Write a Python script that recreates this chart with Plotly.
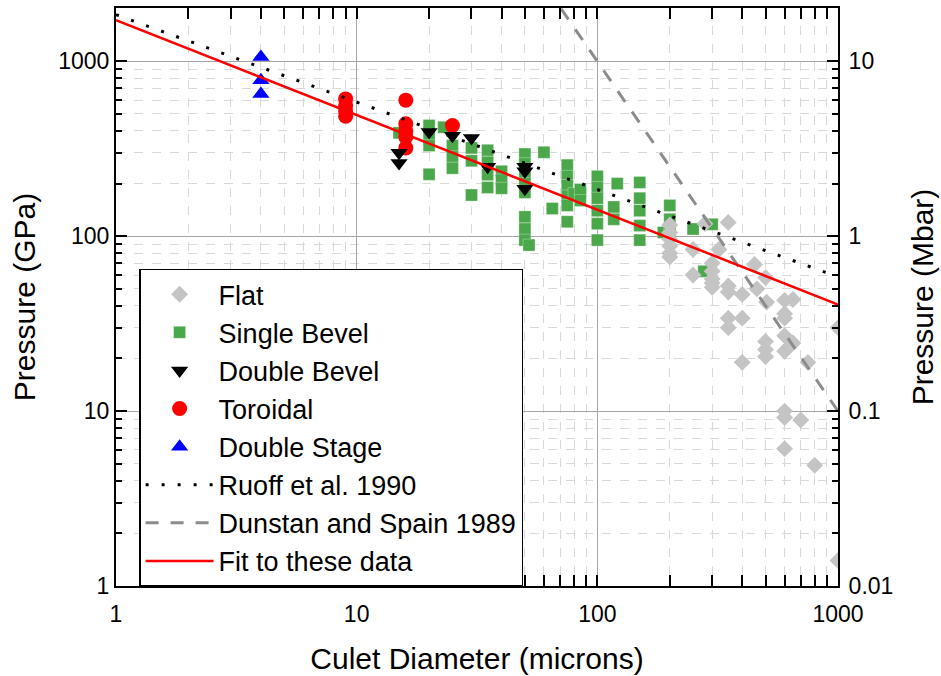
import plotly.graph_objects as go

# ---------------- data ----------------
flat_x = [200, 200, 200, 200, 200, 200, 250, 250, 280, 350, 320,
          300, 300, 300, 300, 300, 350, 350, 350, 350, 400, 400, 400,
          450, 460, 500, 505, 500, 500, 500, 600, 600, 600, 600, 600,
          650, 650, 600, 600, 700, 600, 750, 800, 1000, 1000]
flat_y = [116, 105, 96, 88, 80, 76, 84, 60, 118, 120, 84,
          70, 63, 57, 54, 51, 52, 48, 34, 30, 46.5, 34, 19,
          69, 50, 58, 42, 25, 22.5, 20.5, 43, 36, 34, 27, 22,
          43.5, 24.5, 10, 9.2, 8.9, 6.1, 19, 4.9, 30, 1.4]

single_x = [15, 20, 20, 20, 20, 23, 25, 25, 25, 30, 30, 30,
            35, 35, 35, 35, 40, 40, 40,
            50, 50, 50, 50, 50, 50, 50, 50, 52,
            60, 65, 75, 75, 75, 75, 75, 75, 80, 85, 85,
            100, 100, 100, 100, 100, 100, 117, 117, 121,
            150, 150, 150, 150, 150, 188, 200, 200, 200, 250, 300, 277]
single_y = [390, 430, 380, 330, 226, 420, 330, 285, 245, 320, 270, 172,
            310, 265, 225, 190, 235, 210, 188,
            295, 260, 225, 200, 178, 129, 110, 95, 89,
            302, 144, 255, 220, 195, 170, 150, 121, 175, 185, 160,
            220, 190, 165, 140, 118, 95, 147, 125, 200,
            203, 165, 140, 115, 95, 105, 150, 125, 105, 110, 117, 63]

double_x = [15, 15, 20, 25, 30, 35, 50, 50, 50]
double_y = [300, 262, 395, 375, 365, 250, 250, 235, 187]

toroidal_x = [9, 9, 9, 9, 16, 16, 16, 16, 16, 25]
toroidal_y = [610, 560, 520, 485, 600, 440, 400, 370, 320, 430]

stage_x = [4, 4, 4]
stage_y = [1060, 780, 650]

ruoff_x = [1, 1000]
ruoff_y = [1850, 58.5]
dunstan_x = [70.7, 1000]
dunstan_y = [2000, 10]
fit_x = [1, 1000]
fit_y = [1718, 40.7]

x_ticks = [1, 10, 100, 1000]
x_ticktext = ["1", "10", "100", "1000"]
y_ticks = [1, 10, 100, 1000]
y_ticktext = ["1", "10", "100", "1000"]
y2_ticks = [0.01, 0.1, 1, 10]
y2_ticktext = ["0.01", "0.1", "1", "10"]

x_minor = [m * d for d in (1, 10, 100) for m in range(2, 10)]
y_minor = [m * d for d in (1, 10, 100) for m in range(2, 10)] + [2000]
y2_minor = [m * d for d in (0.01, 0.1, 1) for m in range(2, 10)] + [20]

FONT = "Liberation Sans, Arial, sans-serif"

fig = go.Figure()
fig.add_trace(go.Scatter(x=single_x, y=single_y, mode="markers", name="Single Bevel",
                         legendrank=2,
                         marker=dict(symbol="square", size=12, color="#4aa84a",
                                     line=dict(color="rgba(255,255,255,0.6)", width=0.5))))
fig.add_trace(go.Scatter(x=flat_x, y=flat_y, mode="markers", name="Flat", legendrank=1,
                         marker=dict(symbol="diamond", size=13, color="#c4c4c4", line=dict(width=0))))
fig.add_trace(go.Scatter(x=toroidal_x, y=toroidal_y, mode="markers", name="Toroidal", legendrank=4,
                         marker=dict(symbol="circle", size=15, color="#ff0000", line=dict(width=0))))
fig.add_trace(go.Scatter(x=double_x, y=double_y, mode="markers", name="Double Bevel", legendrank=3,
                         marker=dict(symbol="triangle-down", size=15, color="#000000", line=dict(width=0))))
fig.add_trace(go.Scatter(x=stage_x, y=stage_y, mode="markers", name="Double Stage", legendrank=5,
                         marker=dict(symbol="triangle-up", size=15, color="#0000ff", line=dict(width=0))))
fig.add_trace(go.Scatter(x=ruoff_x, y=ruoff_y, mode="lines", name="Ruoff et al. 1990", legendrank=6,
                         line=dict(color="#000000", width=3, dash="3px,13px")))
fig.add_trace(go.Scatter(x=dunstan_x, y=dunstan_y, mode="lines", name="Dunstan and Spain 1989", legendrank=7,
                         line=dict(color="#8c8c8c", width=3, dash="13px,12px")))
fig.add_trace(go.Scatter(x=fit_x, y=fit_y, mode="lines", name="Fit to these data", legendrank=8,
                         line=dict(color="#ff0000", width=2.5)))
# helper trace so the right-hand (Mbar) axis is drawn
fig.add_trace(go.Scatter(x=[1], y=[1], yaxis="y2", mode="markers", showlegend=False,
                         marker=dict(opacity=0), hoverinfo="skip"))

major_grid = "#a6a6a6"
minor_grid = "#d9d9d9"

fig.update_layout(
    width=941, height=676,
    margin=dict(l=116, r=103, t=6, b=87, pad=0),
    paper_bgcolor="white", plot_bgcolor="white",
    font=dict(family=FONT, size=23, color="black"),
    showlegend=True,
    legend=dict(x=0.032, y=0.549, xanchor="left", yanchor="top",
                bgcolor="white", bordercolor="black", borderwidth=1.5,
                font=dict(size=27, family=FONT), itemwidth=68,
                traceorder="normal"),
    xaxis=dict(type="log", range=[0, 3], showline=True, linecolor="black", linewidth=2,
               mirror="allticks", ticks="inside", ticklen=11, tickwidth=1.5, tickcolor="black",
               tickvals=x_ticks, ticktext=x_ticktext, tickfont=dict(size=23),
               ticklabelstandoff=6,
               showgrid=True, gridcolor=major_grid, gridwidth=1, zeroline=False,
               minor=dict(tickvals=x_minor, ticks="inside", ticklen=6, tickwidth=1.5,
                          tickcolor="black", showgrid=True, gridcolor=minor_grid,
                          griddash="dash", gridwidth=1),
               title=dict(text="Culet Diameter (microns)", font=dict(size=30), standoff=22)),
    yaxis=dict(type="log", range=[0, 3.305], showline=True, linecolor="black", linewidth=2,
               ticks="inside", ticklen=11, tickwidth=1.5, tickcolor="black",
               tickvals=y_ticks, ticktext=y_ticktext, tickfont=dict(size=23),
               showgrid=True, gridcolor=major_grid, gridwidth=1, zeroline=False,
               minor=dict(tickvals=y_minor, ticks="inside", ticklen=6, tickwidth=1.5,
                          tickcolor="black", showgrid=True, gridcolor=minor_grid,
                          griddash="dash", gridwidth=1),
               title=dict(text="Pressure (GPa)", font=dict(size=30), standoff=14)),
    yaxis2=dict(type="log", range=[-2, 1.305], overlaying="y", side="right",
                showline=True, linecolor="black", linewidth=2,
                ticks="inside", ticklen=11, tickwidth=1.5, tickcolor="black",
                tickvals=y2_ticks, ticktext=y2_ticktext, tickfont=dict(size=23),
                ticklabelstandoff=4,
                showgrid=False, zeroline=False,
                minor=dict(tickvals=y2_minor, ticks="inside", ticklen=6, tickwidth=1.5,
                           tickcolor="black", showgrid=False),
                title=dict(text="Pressure (Mbar)", font=dict(size=30), standoff=20)),
)

fig.write_html("out.html")
